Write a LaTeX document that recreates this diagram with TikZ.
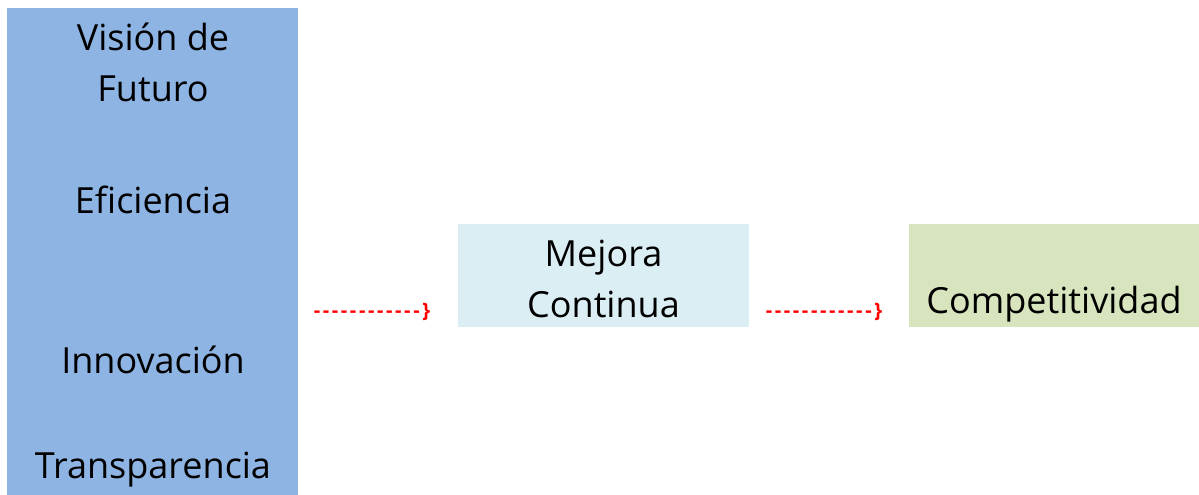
\documentclass[tikz,border=0pt]{standalone}
\usepackage{fontspec}
\setmainfont{Open Sans}
\newfontfamily\connfont[LetterSpace=13]{Open Sans}
\definecolor{colblue}{HTML}{8EB4E3}
\definecolor{lightblue}{HTML}{DBEEF4}
\definecolor{lightgreen}{HTML}{D7E4BD}
\newcommand{\dashrun}{-{}-{}-{}-{}-{}-{}-{}-{}-{}-{}-{}-{}\}}
\begin{document}
\begin{tikzpicture}[x=1pt,y=-1pt,
  lbl/.style={font=\fontsize{36}{51}\selectfont, text=black, align=center, inner sep=0pt},
  conn/.style={font=\connfont\bfseries\fontsize{20}{22}\selectfont, text=red, inner sep=0pt}]
\useasboundingbox (0,0) rectangle (1199,495);
\fill[colblue] (7,8) rectangle (298,495);
\node[lbl] (vision) at (153,62) {Visión de\\Futuro};
\node[lbl] (efic) at (153,200) {Eficiencia};
\node[lbl] (innov) at (153,360) {Innovación};
\node[lbl] (transp) at (153,470) {Transparencia};
\node[fill=lightblue, minimum width=291pt, minimum height=103pt, inner sep=0pt] (mejbox) at (603.5,275.5) {};
\node[lbl] (mejora) at (603.5,279) {Mejora\\Continua};
\node[fill=lightgreen, minimum width=290pt, minimum height=103pt, inner sep=0pt] (compbox) at (1054,275.5) {};
\node[lbl] (comp) at (1054,304) {Competitividad};
\node[conn] (c1) at (372,312) {\dashrun};
\node[conn] (c2) at (824,312) {\dashrun};
\end{tikzpicture}
\end{document}
